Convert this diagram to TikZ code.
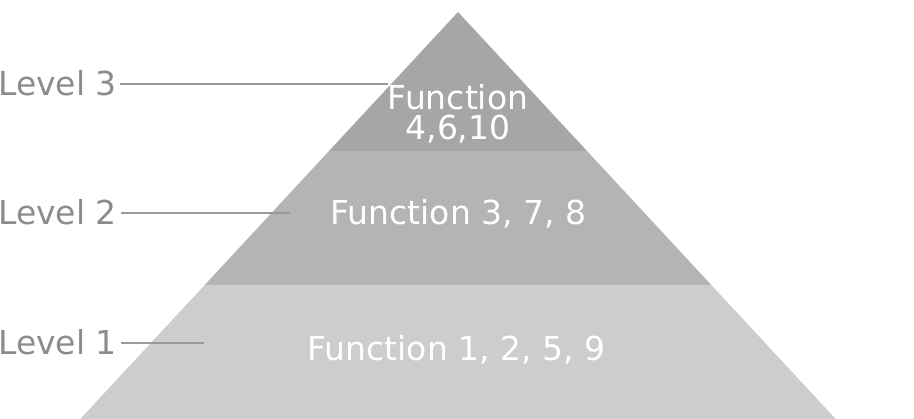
\documentclass[tikz,border=0pt]{standalone}
\usepackage{fontspec}
\setmainfont{DejaVu Sans}
\begin{document}
\begin{tikzpicture}[x=1pt,y=-1pt,
  tier3/.style={fill=gray3,draw=none},
  tier2/.style={fill=gray2,draw=none},
  tier1/.style={fill=gray1,draw=none},
  lvl/.style={text=labelgray,inner sep=0pt,font=\fontsize{33}{33}\selectfont},
  fn/.style={text=white,inner sep=0pt,align=center,font=\fontsize{33}{30}\selectfont},
  leader/.style={draw=linegray,line width=2pt}]
\definecolor{gray3}{HTML}{A6A6A6}
\definecolor{gray2}{HTML}{B4B4B4}
\definecolor{gray1}{HTML}{CDCDCD}
\definecolor{labelgray}{HTML}{8C8C8C}
\definecolor{linegray}{HTML}{999999}
\useasboundingbox (0,0) rectangle (914,419);
% pyramid outline points
\coordinate (apex) at (458,12);
\coordinate (t3l) at (329,151);
\coordinate (t3r) at (587,151);
\coordinate (t2l) at (204.7,285);
\coordinate (t2r) at (711.3,285);
\coordinate (t1l) at (80.3,419);
\coordinate (t1r) at (835.7,419);
% bands
\fill[tier1] (t2l) -- (t2r) -- (t1r) -- (t1l) -- cycle;
\fill[tier2] (t3l) -- (t3r) -- (t2r) -- (t2l) -- cycle;
\fill[tier3] (apex) -- (t3r) -- (t3l) -- cycle;
% band captions
\node[fn] (f3) at (458,114) {Function\\4,6,10};
\node[fn,anchor=base] (f2) at (458.5,225) {Function 3, 7, 8};
\node[fn,anchor=base] (f1) at (456.5,361) {Function 1, 2, 5, 9};
% level labels with leaders
\node[lvl,anchor=base east] (l3) at (117,96) {Level 3};
\node[lvl,anchor=base east] (l2) at (117,225) {Level 2};
\node[lvl,anchor=base east] (l1) at (117,355) {Level 1};
\coordinate (e3) at (388,84);
\coordinate (e2) at (290,212.5);
\coordinate (e1) at (204,342);
\draw[leader] ([xshift=3pt]l3.east) -- (l3.east -| e3);
\draw[leader] ([xshift=4pt]l2.east) -- (l2.east -| e2);
\draw[leader] ([xshift=4pt]l1.east) -- (l1.east -| e1);
\end{tikzpicture}
\end{document}
